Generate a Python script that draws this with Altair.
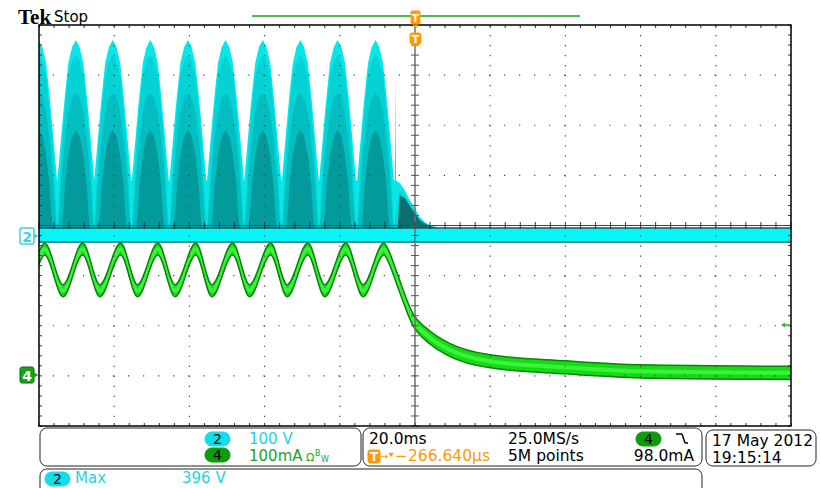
import altair as alt
import pandas as pd

# ---------------- data read from the screen ----------------
# channel 2 (voltage, 100 V/div) : peak times (ms) of the rectified mains
c2_peaks = [-100.1, -90.2, -80.4, -70.4, -60.4, -50.4, -40.5, -30.5, -20.6, -10.5]
# one cycle profile, offsets from a peak (ms) and intensity-layer levels (V)
cyc_off = [-4.9, -4.5, -3.75, -3.3, -2.9, -2.0, -1.0, 0.0, 1.0, 2.0, 2.9, 3.3, 3.75, 4.5, 4.9]
outer_v = [110, 145, 210, 248, 280, 344, 376, 390, 376, 344, 280, 248, 210, 145, 110]
mid_v = [15, 70, 172, 215, 250, 318, 347, 360, 347, 318, 250, 215, 172, 70, 15]
core_v = [15, 30, 120, 160, 190, 245, 275, 285, 275, 245, 190, 160, 120, 30, 15]
dark_v = [15, 15, 15, 50, 101, 160, 198, 210, 198, 160, 101, 50, 15, 15, 15]
# end of the voltage trace after the last peak (ms, V)
outer_tail_t = [-5.35, -5.2, -5.05, -4.07, -2.74, -1.41, -0.08, 1.25, 2.58, 3.91, 6.57, 100.0]
outer_tail_v = [112, 320, 110, 105, 91, 71, 55, 37, 27, 21, 15, 15]
mid_tail_t = [-4.07, -2.74, -1.41, -0.08, 1.25, 2.58, 3.91, 100.0]
mid_tail_v = [90, 80, 62, 46, 31, 22, 15, 15]
core_tail_t = [100.0]
core_tail_v = [15]
dark_tail_t = [100.0]
dark_tail_v = [15]
shadow_t = [-4.6, -4.07, -2.74, -1.41, -0.08, 1.25, 2.58, 3.91, 6.0]
shadow_v = [15, 80, 75, 60, 45, 31, 24, 19, 15]
# noise band of channel 2 around 0 V (V)
band_hi_v = 15
band_lo_v = -13
c2_offset_div = -0.2

# channel 4 (current, 100 mA/div)
g_t = [-100.0, -98.5, -93.6, -88.4, -83.8, -78.3, -73.8, -68.4, -63.8, -58.3, -54.0,
       -48.5, -44.0, -38.4, -34.0, -28.5, -24.0, -18.4, -13.8, -8.3, -7.0, -4.9, -0.6,
       3.9, 9.2, 20.0, 40.1, 60.0, 100.0]
g_ma = [235, 253, 170, 253, 170, 253, 170, 253, 170, 253, 170, 253, 170, 253, 170,
        253, 170, 253, 170, 253, 238, 196, 113, 77, 52, 29, 17, 9, 6]
g_hw = [12, 12, 12, 12, 12, 12, 12, 12, 12, 12, 12, 12, 12, 12, 12, 12, 12, 12, 12,
        12, 12, 12, 12, 13, 13, 13, 13, 13, 13]
c4_offset_div = -3.0

# graticule
major_x = [-80, -60, -40, -20, 20, 40, 60, 80]
major_y = [-3, -2, -1, 1, 2, 3]
minor_x = [-100 + 4 * i for i in range(51)]
minor_y = [-4 + 0.2 * i for i in range(41)]

# ---------------- helpers ----------------
L, T = 39, 25
W, H = 752, 401
xs = alt.Scale(domain=[-100, 100], nice=False, zero=False)
ys = alt.Scale(domain=[-4, 4], nice=False, zero=False)
one = pd.DataFrame({"a": [0]})


def X(f):
    return alt.X(f"{f}:Q", scale=xs, axis=None)


def Y(f):
    return alt.Y(f"{f}:Q", scale=ys, axis=None)


def vdiv(v):
    return v / 100 + c2_offset_div


def cyan_layer(vals, tail_t, tail_v, color):
    t, v = [], []
    for p in c2_peaks:
        for o, val in zip(cyc_off, vals):
            t.append(p + o)
            v.append(val)
    t += tail_t
    v += tail_v
    df = pd.DataFrame({"t": t, "y": [vdiv(a) for a in v], "y0": vdiv(band_lo_v)})
    return alt.Chart(df).mark_area(color=color, clip=True).encode(
        x=X("t"), y=Y("y"), y2=alt.Y2("y0"))


def txt(s, x, y, color="black", size=15, weight="normal", align="left",
        font="DejaVu Sans"):
    return alt.Chart(one).mark_text(
        text=s, align=align, baseline="alphabetic", fontSize=size, font=font,
        fontWeight=weight, color=color).encode(x=alt.value(x - L), y=alt.value(y - T))


def box(x1, y1, x2, y2, fill="transparent", stroke="#222222", r=7, sw=1.0):
    return alt.Chart(one).mark_rect(
        fill=fill, stroke=stroke, strokeWidth=sw, cornerRadius=r).encode(
        x=alt.value(x1 - L), x2=alt.value(x2 - L), y=alt.value(y1 - T), y2=alt.value(y2 - T))


def seg(x1, y1, x2, y2, color="black", sw=1.5):
    return alt.Chart(one).mark_rule(color=color, strokeWidth=sw).encode(
        x=alt.value(x1 - L), x2=alt.value(x2 - L), y=alt.value(y1 - T), y2=alt.value(y2 - T))


def tri(shape, x, y, color, size=40):
    return alt.Chart(one).mark_point(
        shape=shape, filled=True, color=color, size=size, opacity=1).encode(
        x=alt.value(x - L), y=alt.value(y - T))


# ---------------- channel 2 ----------------
layers = [
    cyan_layer(outer_v, outer_tail_t, outer_tail_v, "#08e6e8"),
    cyan_layer(mid_v, mid_tail_t, mid_tail_v, "#05d2d5"),
    cyan_layer(core_v, core_tail_t, core_tail_v, "#03bec1"),
    cyan_layer(dark_v, dark_tail_t, dark_tail_v, "#029a9b"),
]
shadow_df = pd.DataFrame({"t": shadow_t, "y": [vdiv(a) for a in shadow_v],
                          "y0": vdiv(band_lo_v)})
layers.append(alt.Chart(shadow_df).mark_area(color="#0b6f70", clip=True).encode(
    x=X("t"), y=Y("y"), y2=alt.Y2("y0")))

band_df = pd.DataFrame({"t": [-100, 100], "hi": vdiv(band_hi_v), "lo": vdiv(band_lo_v)})
layers.append(alt.Chart(band_df).mark_area(color="#08f6f8", clip=True).encode(
    x=X("t"), y=Y("hi"), y2=alt.Y2("lo")))
layers.append(alt.Chart(band_df).mark_line(color="#1b5a5c", strokeWidth=1.5, clip=True).encode(
    x=X("t"), y=Y("hi")))
layers.append(alt.Chart(band_df).mark_line(color="#0d6a6c", strokeWidth=1.5, clip=True).encode(
    x=X("t"), y=Y("lo")))

# ---------------- channel 4 ----------------
g_df = pd.DataFrame({
    "t": g_t,
    "c": [m / 100 + c4_offset_div for m in g_ma],
    "hi": [(m + h) / 100 + c4_offset_div for m, h in zip(g_ma, g_hw)],
    "lo": [(m - h) / 100 + c4_offset_div for m, h in zip(g_ma, g_hw)],
})
layers.append(alt.Chart(g_df).mark_area(color="#14dc14", interpolate="monotone", clip=True).encode(
    x=X("t"), y=Y("hi"), y2=alt.Y2("lo")))
layers.append(alt.Chart(g_df).mark_line(color="#3cf03c", strokeWidth=4, interpolate="monotone",
                                        clip=True).encode(x=X("t"), y=Y("c")))
layers.append(alt.Chart(g_df).mark_line(color="#0b820b", strokeWidth=1.5, interpolate="monotone",
                                        clip=True).encode(x=X("t"), y=Y("hi")))
layers.append(alt.Chart(g_df).mark_line(color="#0b820b", strokeWidth=1.5, interpolate="monotone",
                                        clip=True).encode(x=X("t"), y=Y("lo")))

# ---------------- graticule ----------------
gx = pd.DataFrame({"t": major_x})
gy = pd.DataFrame({"d": major_y})
mx = pd.DataFrame({"t": minor_x})
my = pd.DataFrame({"d": minor_y})
layers.append(alt.Chart(gx).mark_rule(color="#444444", strokeWidth=1.2, strokeDash=[1.2, 8.82]).encode(
    x=X("t")))
layers.append(alt.Chart(gy).mark_rule(color="#444444", strokeWidth=1.2, strokeDash=[1.2, 13.84]).encode(
    y=Y("d")))
# centre cross-hair
layers.append(alt.Chart(pd.DataFrame({"t": [0]})).mark_rule(color="#707070", strokeWidth=1.5).encode(
    x=X("t")))
layers.append(alt.Chart(pd.DataFrame({"d": [0]})).mark_rule(color="#2a4f50", strokeWidth=1.2).encode(
    y=Y("d")))
layers.append(alt.Chart(my).mark_rule(color="#555555", strokeWidth=1).encode(
    y=Y("d"), x=alt.value(W / 2 - 4), x2=alt.value(W / 2 + 4)))
layers.append(alt.Chart(mx).mark_rule(color="#333333", strokeWidth=1).encode(
    x=X("t"), y=alt.value(H / 2 - 3.5), y2=alt.value(H / 2 + 3.5)))
# border ticks
layers.append(alt.Chart(my).mark_rule(color="#333333", strokeWidth=1).encode(
    y=Y("d"), x=alt.value(0), x2=alt.value(3)))
layers.append(alt.Chart(my).mark_rule(color="#333333", strokeWidth=1).encode(
    y=Y("d"), x=alt.value(W - 3), x2=alt.value(W)))
layers.append(alt.Chart(mx).mark_rule(color="#333333", strokeWidth=1).encode(
    x=X("t"), y=alt.value(0), y2=alt.value(3)))
layers.append(alt.Chart(mx).mark_rule(color="#333333", strokeWidth=1).encode(
    x=X("t"), y=alt.value(H - 3), y2=alt.value(H)))
# frame
layers.append(alt.Chart(one).mark_rect(fill="transparent", stroke="black", strokeWidth=1.5).encode(
    x=alt.value(0), x2=alt.value(W), y=alt.value(0), y2=alt.value(H)))

# ---------------- screen furniture ----------------
cyan_t = "#1fd3e2"
cyan_p = "#12dde8"
green_t = "#23a323"
green_p = "#0c9c0c"
orange = "#ff9a00"

layers += [
    txt("Tek", 18, 24, size=21, weight="bold", font="Liberation Serif"),
    txt("Stop", 54, 22, size=15),
    seg(252, 16, 580, 16, color="#1aa31a", sw=1.5),
    # trigger position markers
    box(411, 11, 420, 24, fill=orange, stroke=orange, r=1),
    tri("triangle-down", 415.5, 27, orange, 30),
    txt("T", 415.5, 22, color="white", size=10, weight="bold", align="center"),
    box(410, 33, 421, 44, fill=orange, stroke=orange, r=2),
    tri("triangle-down", 415.5, 45, orange, 40),
    txt("T", 415.5, 43, color="white", size=11, weight="bold", align="center"),
    # channel markers
    box(20, 228, 34, 244, fill="white", stroke="#3fd2de", r=2, sw=1.5),
    tri("triangle-right", 36, 236, "#3fd2de", 30),
    txt("2", 27, 242, color="#3fd2de", size=14, weight="bold", align="center"),
    box(20, 367, 34, 383, fill="#17a317", stroke="#0a6a0a", r=2, sw=1),
    tri("triangle-right", 36, 375, "#17a317", 30),
    txt("4", 27, 381, color="white", size=14, weight="bold", align="center"),
    # level arrow at right
    tri("triangle-left", 783, 325, "#2db82d", 25),
    seg(783, 325, 790, 325, color="#2db82d", sw=1.5),
    # bottom read-out boxes
    box(40, 428, 361, 466),
    box(363, 428, 702, 466),
    box(706, 430, 816, 466),
    box(40, 469, 702, 505),
    box(205, 432, 230, 446, fill=cyan_p, stroke=cyan_p),
    txt("2", 217.5, 443.5, size=14, align="center"),
    txt("100 V", 249, 444, color=cyan_t),
    box(205, 448, 230, 462, fill=green_p, stroke=green_p),
    txt("4", 217.5, 459.5, size=14, align="center"),
    txt("100mA", 249, 461, color=green_t),
    txt("Ω", 306, 461, color=green_t, size=11),
    txt("B", 315, 456, color=green_t, size=8),
    txt("W", 321, 461.5, color=green_t, size=8),
    txt("20.0ms", 369, 444, size=15.5),
    txt("25.0MS/s", 508, 444, size=15.5),
    box(636, 432, 661, 446, fill=green_p, stroke=green_p),
    txt("4", 648.5, 443.5, size=14, align="center"),
    seg(676, 434, 682, 434),
    seg(682, 434, 685, 443),
    seg(685, 443, 688, 443),
    box(368, 450, 380, 463, fill=orange, stroke=orange, r=2),
    txt("T", 374, 461, color="white", size=12, weight="bold", align="center"),
    txt("→", 380, 460, color=orange, size=10),
    tri("triangle-down", 391, 455, orange, 30),
    txt("−266.640µs", 395, 461, color=orange, size=15.5),
    txt("5M points", 508, 461, size=15.5),
    txt("98.0mA", 694, 461, align="right", size=15.5),
    txt("17 May 2012", 712, 446, size=15.5),
    txt("19:15:14", 712, 463, size=15.5),
    box(45, 472, 70, 486, fill=cyan_p, stroke=cyan_p),
    txt("2", 57.5, 483.5, size=14, align="center"),
    txt("Max", 75, 483, color=cyan_t),
    txt("396 V", 182, 483, color=cyan_t),
]

chart = alt.layer(*layers).properties(
    width=W, height=H,
    autosize=alt.AutoSizeParams(type="none"),
    padding={"left": L, "top": T, "right": 821 - L - W, "bottom": 488 - T - H},
    background="white",
).configure_view(strokeWidth=0)

chart.save("out.html", embed_options={"renderer": "svg", "actions": False})
